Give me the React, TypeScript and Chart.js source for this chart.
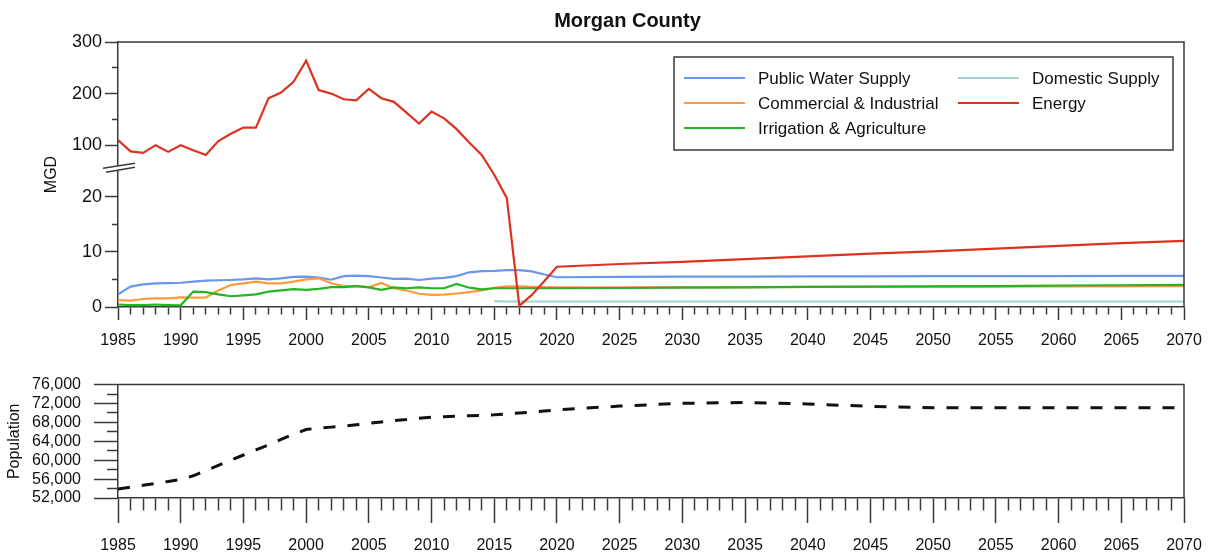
import React, { useEffect, useRef } from 'react';
import { Chart, registerables } from 'chart.js';

Chart.register(...registerables);

const FONT = '"Liberation Sans", Arial, Helvetica, sans-serif';
const AXIS = '#3a3a3a';
const TEXT = '#111111';

// ---------- data ----------
const YEARS = [
  1985, 1986, 1987, 1988, 1989, 1990, 1991, 1992, 1993, 1994, 1995, 1996,
  1997, 1998, 1999, 2000, 2001, 2002, 2003, 2004, 2005, 2006, 2007, 2008,
  2009, 2010, 2011, 2012, 2013, 2014, 2015, 2016, 2017, 2018, 2019, 2020,
  2025, 2030, 2035, 2040, 2045, 2050, 2055, 2060, 2065, 2070,
];

const PUBLIC_WATER = [
  2.3, 3.7, 4.1, 4.3, 4.35, 4.4, 4.6, 4.8, 4.85, 4.9, 5.0, 5.2,
  5.0, 5.2, 5.45, 5.5, 5.35, 4.95, 5.6, 5.7, 5.6, 5.35, 5.1, 5.15,
  4.9, 5.15, 5.3, 5.6, 6.3, 6.5, 6.55, 6.7, 6.7, 6.45, 5.9, 5.4,
  5.45, 5.5, 5.5, 5.55, 5.55, 5.6, 5.6, 5.6, 5.65, 5.65,
];

const COMMERCIAL = [
  1.25, 1.15, 1.45, 1.55, 1.55, 1.75, 1.7, 1.75, 3.0, 4.0, 4.3, 4.6,
  4.3, 4.3, 4.6, 5.0, 5.2, 4.3, 3.8, 3.8, 3.6, 4.35, 3.4, 3.0,
  2.4, 2.2, 2.25, 2.45, 2.7, 3.0, 3.5, 3.75, 3.75, 3.65, 3.6, 3.55,
  3.55, 3.6, 3.6, 3.65, 3.65, 3.7, 3.7, 3.75, 3.75, 3.8,
];

const IRRIGATION = [
  0.45, 0.35, 0.35, 0.45, 0.35, 0.3, 2.8, 2.7, 2.3, 1.95, 2.1, 2.3,
  2.8, 3.0, 3.25, 3.1, 3.3, 3.6, 3.6, 3.8, 3.55, 3.1, 3.55, 3.4,
  3.55, 3.4, 3.4, 4.2, 3.5, 3.2, 3.4, 3.4, 3.4, 3.4, 3.4, 3.4,
  3.45, 3.5, 3.55, 3.65, 3.7, 3.75, 3.8, 3.9, 3.95, 4.0,
];

const DOMESTIC = [
  null, null, null, null, null, null, null, null, null, null, null, null,
  null, null, null, null, null, null, null, null, null, null, null, null,
  null, null, null, null, null, null, 1.05, 1.0, 1.0, 1.0, 1.0, 1.0,
  1.0, 1.0, 1.0, 1.0, 1.0, 1.0, 1.0, 1.0, 1.0, 1.0,
];

const ENERGY = [
  110, 88, 85, 100, 87, 100, 90, 81, 108, 122, 134, 134,
  191, 202, 223, 264, 207, 200, 189, 187, 209, 191, 184, 163,
  142, 165, 152, 131, 105, 81, 24, 19.8, 0.2, 2.2, 4.7, 7.3,
  7.8, 8.2, 8.7, 9.2, 9.7, 10.1, 10.6, 11.1, 11.6, 12.0,
];

const POPULATION = [
  53900, 54300, 54700, 55100, 55500, 55900, 56700, 57800, 58900, 60000, 61100, 62200,
  63200, 64400, 65500, 66500, 66800, 67000, 67200, 67500, 67800, 68100, 68400, 68600,
  68900, 69100, 69200, 69300, 69400, 69500, 69600, 69800, 70000, 70200, 70400, 70650,
  71450, 72050, 72200, 71900, 71400, 71100, 71100, 71100, 71100, 71100,
];

const SERIES_LABELS = [
  'Public Water Supply',
  'Commercial & Industrial',
  'Irrigation & Agriculture',
  'Domestic Supply',
  'Energy',
];
const SERIES_VALUES = [PUBLIC_WATER, COMMERCIAL, IRRIGATION, DOMESTIC, ENERGY];
const SERIES_COLORS = ['#6a96ee', '#ff9a3c', '#25b425', '#a3d3cc', '#dc3220'];

const MGD_TICKS = [0, 5, 10, 15, 20, 100, 150, 200, 250, 300];
const MGD_LABELED = [0, 10, 20, 100, 200, 300];

// ---------- broken MGD axis ----------
const BREAK_LOW = 26;
const BREAK_HIGH = 64;
const UPPER_RATIO = 0.0936;

function toDisplay(v: number | null) {
  if (v == null) return null;
  if (v <= BREAK_LOW) return v;
  if (v >= BREAK_HIGH) return BREAK_LOW + (v - BREAK_HIGH) * UPPER_RATIO;
  return BREAK_LOW;
}
function fromDisplay(d: number) {
  return d <= BREAK_LOW ? d : BREAK_HIGH + (d - BREAK_LOW) / UPPER_RATIO;
}

function isMajorYear(ctx: any) {
  const t = ctx && ctx.tick;
  if (!t) return true;
  return Math.round(t.value) % 5 === 0;
}

function xAxis(height: number, tickLen: number, minorLen: number, pad: number) {
  return {
    type: 'linear',
    min: 1985,
    max: 2070,
    afterFit: (s: any) => {
      s.height = height;
      s.paddingLeft = 0;
      s.paddingRight = 0;
    },
    ticks: {
      stepSize: 1,
      autoSkip: false,
      maxRotation: 0,
      minRotation: 0,
      padding: pad,
      color: TEXT,
      font: { family: FONT, size: 16 },
      callback: (v: any) => (Math.round(v) % 5 === 0 ? String(Math.round(v)) : ''),
    },
    grid: {
      drawOnChartArea: false,
      drawTicks: true,
      tickLength: tickLen,
      tickColor: AXIS,
      tickWidth: 1.5,
      tickBorderDash: (ctx: any) => (isMajorYear(ctx) ? [] : [minorLen, 300]),
    },
    border: { display: true, color: AXIS, width: 1.5 },
  };
}

const framePlugin = {
  id: 'frame',
  afterDraw(chart: any) {
    const { ctx, chartArea } = chart;
    const { left, right, top, bottom } = chartArea;
    ctx.save();
    ctx.strokeStyle = AXIS;
    ctx.lineWidth = 1.5;
    ctx.beginPath();
    ctx.moveTo(left, top);
    ctx.lineTo(right, top);
    ctx.lineTo(right, bottom);
    ctx.stroke();
    ctx.restore();
  },
};

const breakPlugin = {
  id: 'axisBreak',
  afterDraw(chart: any) {
    const { ctx, chartArea } = chart;
    const y = chart.scales.y.getPixelForValue(BREAK_LOW) + 2;
    const x = chartArea.left;
    ctx.save();
    ctx.fillStyle = '#ffffff';
    ctx.beginPath();
    ctx.moveTo(x - 15, y + 2.5);
    ctx.lineTo(x + 17, y - 2.5);
    ctx.lineTo(x + 17, y + 1.5);
    ctx.lineTo(x - 15, y + 6.5);
    ctx.closePath();
    ctx.fill();
    ctx.strokeStyle = AXIS;
    ctx.lineWidth = 1.5;
    ctx.beginPath();
    ctx.moveTo(x - 15, y + 2.5);
    ctx.lineTo(x + 17, y - 2.5);
    ctx.moveTo(x - 12, y + 6.5);
    ctx.lineTo(x + 17, y + 1.5);
    ctx.stroke();
    ctx.restore();
  },
};

const legendPlugin = {
  id: 'boxLegend',
  afterDraw(chart: any) {
    const { ctx, chartArea } = chart;
    const boxLeft = chartArea.right - 510;
    const boxTop = chartArea.top + 15;
    const boxW = 499;
    const boxH = 93;
    ctx.save();
    ctx.fillStyle = '#ffffff';
    ctx.fillRect(boxLeft, boxTop, boxW, boxH);
    ctx.strokeStyle = AXIS;
    ctx.lineWidth = 1.5;
    ctx.strokeRect(boxLeft, boxTop, boxW, boxH);
    ctx.font = `17px ${FONT}`;
    ctx.textBaseline = 'middle';
    ctx.textAlign = 'left';
    chart.data.datasets.forEach((ds: any, i: number) => {
      const col = Math.floor(i / 3);
      const row = i % 3;
      const x0 = boxLeft + 10 + col * 274;
      const y = boxTop + 21 + row * 25;
      ctx.strokeStyle = ds.borderColor;
      ctx.lineWidth = 2;
      ctx.beginPath();
      ctx.moveTo(x0, y);
      ctx.lineTo(x0 + 61, y);
      ctx.stroke();
      ctx.fillStyle = TEXT;
      ctx.fillText(ds.label, x0 + 74, y + 1);
    });
    ctx.restore();
  },
};

function topConfig(): any {
  return {
    type: 'line',
    data: {
      datasets: SERIES_LABELS.map((label, i) => ({
        label,
        data: YEARS.map((yr, j) => ({ x: yr, y: toDisplay(SERIES_VALUES[i][j] as any) })),
        borderColor: SERIES_COLORS[i],
        backgroundColor: SERIES_COLORS[i],
        borderWidth: 2.2,
        pointRadius: 0,
        tension: 0,
        fill: false,
        order: SERIES_LABELS.length - i,
      })),
    },
    options: {
      responsive: false,
      animation: false,
      events: [],
      layout: { padding: { top: 42, right: 28, left: 0, bottom: 0 } },
      plugins: {
        legend: { display: false },
        tooltip: { enabled: false },
        title: { display: false },
      },
      scales: {
        x: xAxis(55, 13, 7, 11),
        y: {
          type: 'linear',
          min: 0,
          max: toDisplay(300),
          afterBuildTicks: (s: any) => {
            s.ticks = MGD_TICKS.map((v) => ({ value: toDisplay(v) }));
          },
          afterFit: (s: any) => {
            s.width = 118;
          },
          ticks: {
            autoSkip: false,
            padding: 3,
            color: TEXT,
            font: { family: FONT, size: 18 },
            callback: (v: any) => {
              const r = Math.round(fromDisplay(v));
              return MGD_LABELED.includes(r) ? String(r) : '';
            },
          },
          grid: {
            drawOnChartArea: false,
            drawTicks: true,
            tickLength: 13,
            tickColor: AXIS,
            tickWidth: 1.5,
            tickBorderDash: (ctx: any) => {
              const t = ctx && ctx.tick;
              if (!t) return [];
              const r = Math.round(fromDisplay(t.value));
              return MGD_LABELED.includes(r) ? [] : [0, 7, 6, 300];
            },
          },
          border: { display: true, color: AXIS, width: 1.5 },
          title: {
            display: true,
            text: 'MGD',
            color: TEXT,
            font: { family: FONT, size: 16 },
            padding: { top: 42, bottom: 0 },
          },
        },
      },
    },
    plugins: [framePlugin, breakPlugin, legendPlugin],
  };
}

function bottomConfig(): any {
  return {
    type: 'line',
    data: {
      datasets: [
        {
          label: 'Population',
          data: YEARS.map((yr, j) => ({ x: yr, y: POPULATION[j] })),
          borderColor: '#111111',
          borderWidth: 3,
          borderDash: [12, 12],
          pointRadius: 0,
          tension: 0,
          fill: false,
        },
      ],
    },
    options: {
      responsive: false,
      animation: false,
      events: [],
      layout: { padding: { top: 15, right: 28, left: 0, bottom: 0 } },
      plugins: {
        legend: { display: false },
        tooltip: { enabled: false },
        title: { display: false },
      },
      scales: {
        x: xAxis(58, 25, 12, 13),
        y: {
          type: 'linear',
          min: 52000,
          max: 76000,
          afterFit: (s: any) => {
            s.width = 118;
          },
          ticks: {
            stepSize: 2000,
            autoSkip: false,
            padding: 13,
            color: TEXT,
            font: { family: FONT, size: 16 },
            callback: (v: any) => (v % 4000 === 0 ? Number(v).toLocaleString('en-US') : ''),
          },
          grid: {
            drawOnChartArea: false,
            drawTicks: true,
            tickLength: 24,
            tickColor: AXIS,
            tickWidth: 1.5,
            tickBorderDash: (ctx: any) => {
              const t = ctx && ctx.tick;
              if (!t) return [];
              return t.value % 4000 === 0 ? [] : [0, 13, 11, 300];
            },
          },
          border: { display: true, color: AXIS, width: 1.5 },
          title: {
            display: true,
            text: 'Population',
            color: TEXT,
            font: { family: FONT, size: 16 },
            padding: { top: 5, bottom: 0 },
          },
        },
      },
    },
    plugins: [framePlugin],
  };
}

export default function App() {
  const topRef = useRef<HTMLCanvasElement | null>(null);
  const botRef = useRef<HTMLCanvasElement | null>(null);

  useEffect(() => {
    const c1 = new Chart(topRef.current as HTMLCanvasElement, topConfig());
    const c2 = new Chart(botRef.current as HTMLCanvasElement, bottomConfig());
    return () => {
      c1.destroy();
      c2.destroy();
    };
  }, []);

  return (
    <div
      style={{
        position: 'fixed',
        left: 0,
        top: 0,
        width: 1212,
        height: 556,
        background: '#ffffff',
        overflow: 'hidden',
      }}
    >
      <canvas ref={topRef} width={1212} height={362} style={{ position: 'absolute', left: 0, top: 0 }} />
      <canvas ref={botRef} width={1212} height={194} style={{ position: 'absolute', left: 0, top: 362 }} />
      <div
        style={{
          position: 'absolute',
          left: 527,
          top: 0,
          width: 201,
          height: 40,
          lineHeight: '40px',
          textAlign: 'center',
          fontFamily: FONT,
          fontWeight: 'bold',
          fontSize: 20,
          whiteSpace: 'nowrap',
          color: TEXT,
        }}
      >
        Morgan County
      </div>
    </div>
  );
}
